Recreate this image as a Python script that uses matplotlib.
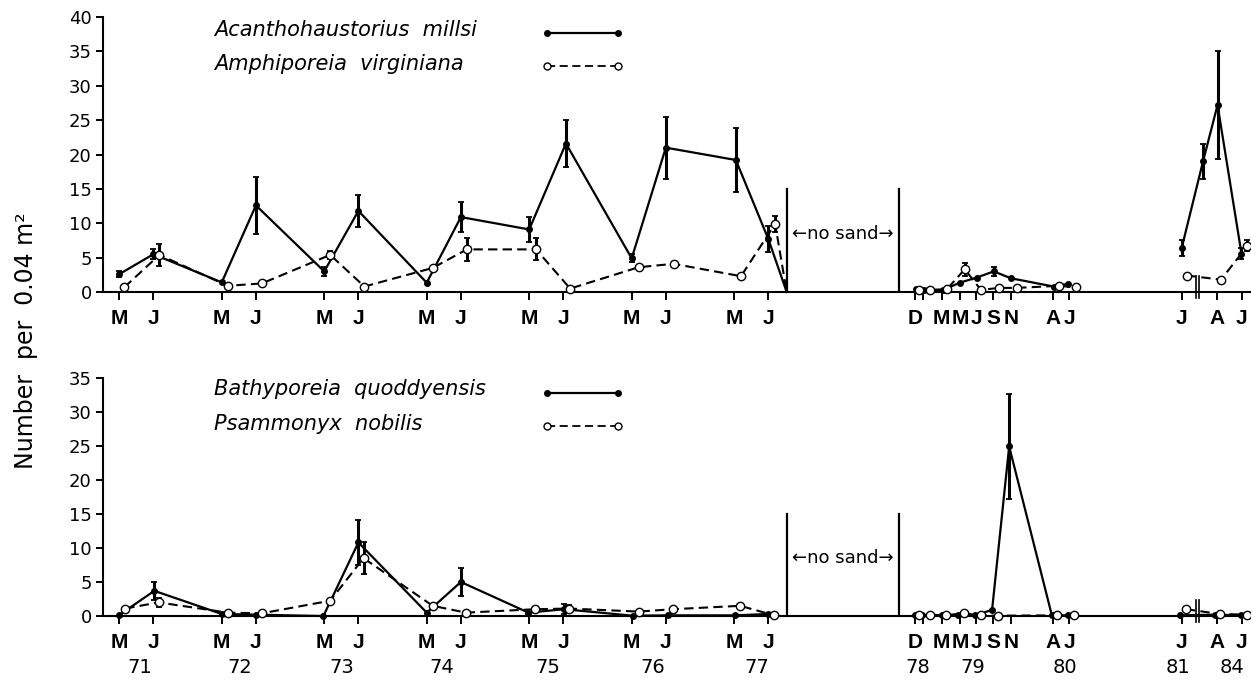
import matplotlib.pyplot as plt
import numpy as np

# sampling dates in months from Jan 1971 (axis compressed after the 81/84 break)
t_mill = [2, 6, 14, 18, 26, 30, 38, 42, 50, 54.3, 62, 66, 74.2, 78, 80.15,
          95.3, 96.2, 98.5, 100.4, 102.4, 104.4, 106.4, 111.4, 113.1, 126.4, 128.9, 130.6, 133.4]
mill = [2.6, 5.5, 1.4, 12.6, 3.0, 11.8, 1.35, 10.9, 9.1, 21.6, 4.9, 21.0, 19.2, 7.7, 0,
        0.4, 0.3, 0.3, 1.35, 2.1, 3.0, 2.0, 0.8, 1.2, 6.4, 19.0, 27.2, 5.6]
mill_err = [0.4, 0.7, 0, 4.2, 0.7, 2.3, 0, 2.2, 1.8, 3.4, 0.6, 4.5, 4.6, 1.9, 0,
            0, 0, 0, 0, 0, 0.7, 0, 0, 0, 1.2, 2.5, 7.9, 0.8]

t_virg = [2.6, 6.7, 14.7, 18.7, 26.7, 30.7, 38.7, 42.7, 50.8, 54.8, 62.8, 66.9, 74.8, 78.8, 80.15,
          95.7, 96.9, 98.9, 101.0, 102.9, 105.0, 107.1, 112.0, 114.0, 127.0, 131.0, 134.1]
virg = [0.7, 5.4, 0.9, 1.25, 5.4, 0.8, 3.5, 6.2, 6.2, 0.5, 3.6, 4.1, 2.3, 9.9, 0,
        0.3, 0.3, 0.4, 3.3, 0.3, 0.6, 0.6, 0.9, 0.7, 2.4, 1.8, 6.7]
virg_err = [0, 1.6, 0, 0, 0.6, 0, 0, 1.7, 1.6, 0, 0, 0, 0, 1.2, 0,
            0, 0, 0, 0.9, 0, 0, 0, 0, 0, 0, 0, 0.8]

t_quod = [2, 6.1, 14, 18, 25.9, 30, 38, 42, 49.9, 54.1, 62.1, 66.2, 74.1, 78,
          95.2, 96.0, 98.3, 100.2, 102.2, 104.2, 106.2, 111.2, 113.1, 126.2, 130.3, 133.4]
quod = [0.15, 3.7, 0.3, 0.2, 0.0, 10.8, 0.5, 5.0, 0.5, 1.0, 0.05, 0.1, 0.1, 0.3,
        0.1, 0.1, 0.1, 0.2, 0.1, 0.9, 24.9, 0.1, 0.1, 0.1, 0.2, 0.1]
quod_err = [0, 1.3, 0, 0, 0, 3.3, 0, 2.1, 0, 0.7, 0, 0, 0, 0,
            0, 0, 0, 0, 0, 0, 7.7, 0, 0, 0, 0, 0]

t_nob = [2.7, 6.6, 14.7, 18.7, 26.7, 30.6, 38.7, 42.6, 50.7, 54.7, 62.8, 66.8, 74.7, 78.7,
         95.7, 96.9, 98.8, 100.9, 102.9, 104.9, 111.8, 113.8, 126.9, 130.9, 134.0]
nob = [1.1, 2.0, 0.5, 0.4, 2.25, 8.5, 1.5, 0.5, 1.0, 1.1, 0.65, 1.0, 1.5, 0.1,
       0.1, 0.2, 0.1, 0.4, 0.1, 0.05, 0.1, 0.1, 1.0, 0.3, 0.2]
nob_err = [0, 0.7, 0, 0, 0, 2.4, 0, 0, 0, 0.5, 0, 0, 0, 0,
           0, 0, 0, 0, 0, 0, 0, 0, 0, 0, 0]

tick_pos = [2, 6, 14, 18, 26, 30, 38, 42, 50, 54, 62, 66, 74, 78,
            95.17, 96.08, 98.3, 100.44, 102.32, 104.34, 106.41, 111.37, 113.24, 126.4, 130.5, 133.43]
tick_lab = ['M', 'J'] * 7 + ['D', '', 'M', 'M', 'J', 'S', 'N', 'A', 'J', 'J', 'A', 'J']
year_pos = [4.4, 16.1, 28.0, 39.8, 52.2, 64.5, 76.6, 95.5, 101.96, 112.7, 125.97, 132.3]
year_lab = ['71', '72', '73', '74', '75', '76', '77', '78', '79', '80', '81', '84']
nosand = [80.15, 93.3]


def draw(ax, t, y, err, filled):
    t, y, err = np.array(t), np.array(y), np.array(err)
    mark = np.abs(t - nosand[0]) > 0.01
    for s in np.split(np.arange(len(t)), np.where(np.diff(t) > 10)[0] + 1):
        if filled:
            ax.plot(t[s], y[s], '-', color='k', lw=1.6, clip_on=False, zorder=3)
        else:
            ax.plot(t[s], y[s], '--', color='k', lw=1.5, dashes=(4.5, 2.5), clip_on=False, zorder=4)
    if filled:
        ax.plot(t[mark], y[mark], 'o', color='k', ms=4, clip_on=False, zorder=3)
    else:
        ax.plot(t[mark], y[mark], 'o', mfc='white', mec='k', mew=1, ms=6, clip_on=False, zorder=5)
    m = err > 0
    ax.errorbar(t[m], y[m], yerr=err[m], fmt='none', ecolor='k', elinewidth=2.2,
                capsize=2.5, capthick=1.3, zorder=2)


def legend(ax, y_txt, y_line, name, filled):
    ax.text(0.097, y_txt, name, transform=ax.transAxes, style='italic', fontsize=15, va='baseline')
    if filled:
        ax.plot([0.387, 0.449], [y_line, y_line], '-', color='k', lw=1.6, marker='o', ms=4,
                transform=ax.transAxes, clip_on=False)
    else:
        ax.plot([0.387, 0.449], [y_line, y_line], '--', color='k', lw=1.3, dashes=(4.5, 2.5),
                marker='o', ms=5, mfc='white', mec='k', transform=ax.transAxes, clip_on=False)


fig = plt.figure(figsize=(12.51, 6.81), dpi=100)
ax1 = fig.add_axes([0.0823, 0.5712, 0.9169, 0.4038])
ax2 = fig.add_axes([0.0823, 0.0954, 0.9169, 0.35])

for ax, top in [(ax1, 40), (ax2, 35)]:
    ax.set_xlim(0.09, 134.4)
    ax.set_ylim(0, top)
    ax.set_yticks(range(0, top + 1, 5))
    ax.set_xticks(tick_pos)
    ax.set_xticklabels(tick_lab, fontfamily='Liberation Sans', fontweight='bold', fontsize=15)
    ax.spines['top'].set_visible(False)
    ax.spines['right'].set_visible(False)
    ax.spines['left'].set_linewidth(1.5)
    ax.spines['bottom'].set_linewidth(1.5)
    ax.tick_params(axis='x', direction='out', length=6, width=1.4, pad=6)
    ax.tick_params(axis='y', direction='out', length=5, width=1.4, pad=3, labelsize=13)
    for x in nosand:
        ax.plot([x, x], [0, 15], color='k', lw=1.6)
    ax.text(np.mean(nosand), 8.5, '←no sand→', ha='center', va='center', fontsize=13)
    # axis break between 81 and 84
    for x in [128.1, 128.45]:
        ax.plot([x, x], [-0.9, 2.4], color='k', lw=1.2, clip_on=False)

draw(ax1, t_mill, mill, mill_err, True)
draw(ax1, t_virg, virg, virg_err, False)
draw(ax2, t_quod, quod, quod_err, True)
draw(ax2, t_nob, nob, nob_err, False)

legend(ax1, 0.931, 0.941, 'Acanthohaustorius  millsi', True)
legend(ax1, 0.807, 0.822, 'Amphiporeia  virginiana', False)
legend(ax2, 0.927, 0.937, 'Bathyporeia  quoddyensis', True)
legend(ax2, 0.781, 0.797, 'Psammonyx  nobilis', False)

for x, lab in zip(year_pos, year_lab):
    ax2.text(x, -0.218, lab, transform=ax2.get_xaxis_transform(), ha='center', va='center', fontsize=14)

fig.text(0.021, 0.5, 'Number  per  0.04 m²', rotation=90, ha='center', va='center', fontsize=17)

fig.savefig('out.png', dpi=100)
